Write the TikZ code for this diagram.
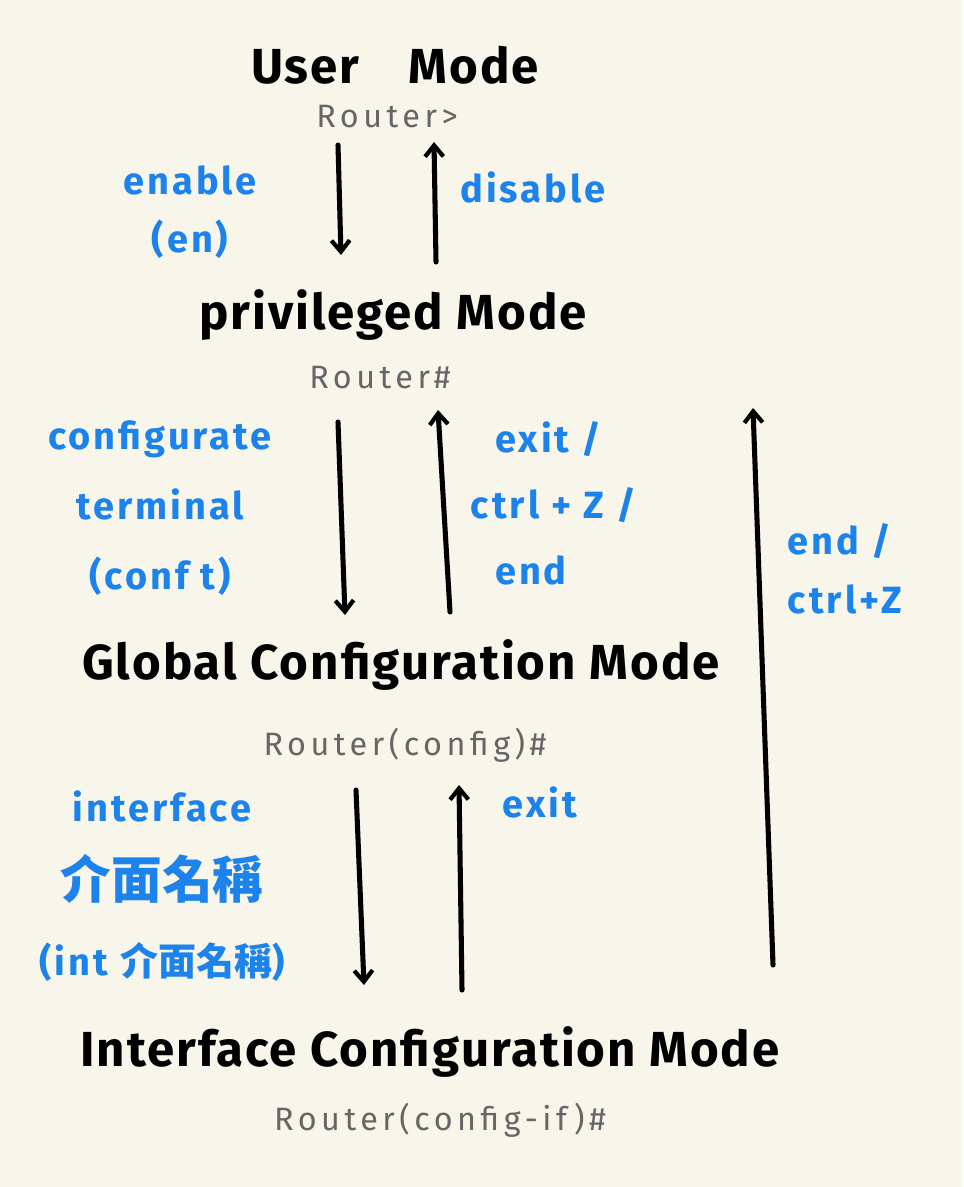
\documentclass[tikz,border=0pt]{standalone}
\usepackage{fontspec}
\setmainfont{Fira Sans}
\newfontfamily\cjk{Noto Sans CJK TC}
\usetikzlibrary{arrows.meta}
\definecolor{PaperBg}{HTML}{F8F5EA}
\definecolor{CmdBlue}{HTML}{1C82EC}
\definecolor{PromptGray}{HTML}{666666}

\tikzset{
  mode/.style={font=\fontsize{35}{40}\selectfont\bfseries\addfontfeatures{LetterSpace=4}},
  prompt/.style={text=PromptGray,font=\fontsize{23}{26}\selectfont\addfontfeatures{LetterSpace=14}},
  cmd/.style={text=CmdBlue,font=\fontsize{27}{#1}\selectfont\bfseries\addfontfeatures{LetterSpace=8}},
  cmd/.default=48,
  arr/.style={line width=3.6pt,line cap=round,-{Straight Barb[length=8pt,width=13pt,line width=3pt]}}
}

\begin{document}
\begin{tikzpicture}[x=0.025cm,y=-0.025cm]
  \fill[PaperBg] (0,0) rectangle (963,1187);
  \useasboundingbox (0,0) rectangle (963,1187);

  % modes and prompts
  \node[mode] (user) at (395,65) {User\quad Mode};
  \node[prompt] (userP) at (387,117) {Router>};
  \node[mode] (priv) at (393,315) {privileged Mode};
  \node[prompt] (privP) at (380,378) {Router\#};
  \node[mode] (glob) at (401,665) {Global Configuration Mode};
  \node[prompt] (globP) at (405,745) {Router(config)\#};
  \node[mode] (intf) at (430,1052) {Interface Configuration Mode};
  \node[prompt] (intfP) at (440,1120) {Router(config-if)\#};

  % arrow ends
  \coordinate (en1) at (338,145); \coordinate (en2) at (341,255);
  \coordinate (dis1) at (436,262); \coordinate (dis2) at (434,142);
  \coordinate (ct1) at (338,422); \coordinate (ct2) at (345,615);
  \coordinate (ex1) at (450,612); \coordinate (ex2) at (438,410);
  \coordinate (if1) at (356,790); \coordinate (if2) at (364,985);
  \coordinate (ex3) at (462,990); \coordinate (ex4) at (459,785);
  \coordinate (end1) at (773,965); \coordinate (end2) at (753,408);

  \draw[arr] (en1) -- (en2);
  \draw[arr] (dis1) -- (dis2);
  \draw[arr] (ct1) -- (ct2);
  \draw[arr] (ex1) -- (ex2);
  \draw[arr] (if1) -- (if2);
  \draw[arr] (ex3) -- (ex4);
  \draw[arr] (end1) -- (end2);

  % commands
  \node[cmd=41,align=center] (enable) at (190,212) {enable\\(en)};
  \node[cmd] (disable) at (533,187) {disable};
  \node[cmd=50,align=center] (conft) at (160,508) {configurate\\terminal\\(conf t)};
  \node[cmd=47,align=left,anchor=west] (exitEnd) at (466,503) {\ \ exit /\\ctrl + Z /\\\ \ end};
  \node[cmd=42,align=left,anchor=west] (endZ) at (783,569) {end /\\ctrl+Z};
  \node[cmd=55,align=center] (intName) at (162,886) {interface\\{\cjk\fontsize{36}{40}\selectfont 介面名稱}\\(int {\cjk 介面名稱})};
  \node[cmd] (exit) at (540,802) {exit};
\end{tikzpicture}
\end{document}
